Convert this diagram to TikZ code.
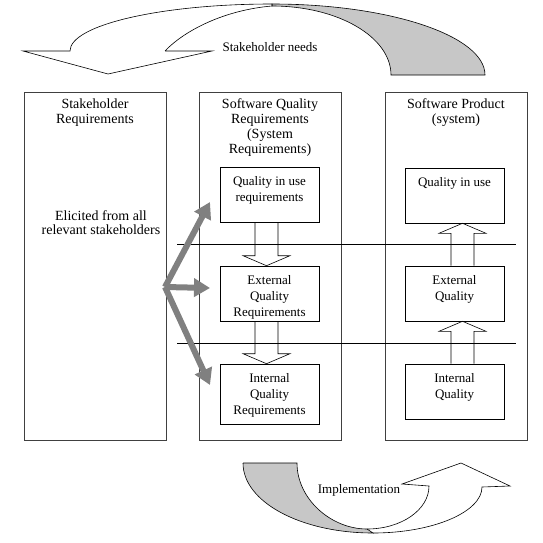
\documentclass[tikz,border=0pt]{standalone}
\usepackage{fontspec}
\setmainfont{Liberation Serif}
\usetikzlibrary{positioning,calc,arrows.meta,shadows}
\begin{document}
\begin{tikzpicture}
  [x=1pt,y=-1pt,line width=.6pt,
   col/.style={draw=black!75,fill=white,minimum width=142pt,minimum height=348pt,inner sep=0pt,
     drop shadow={shadow xshift=1pt,shadow yshift=-1pt,fill=black!45,opacity=1}},
   qbox/.style={draw,minimum width=99pt,minimum height=55pt,inner sep=0pt},
   head/.style={align=center,inner sep=0pt,font=\fontsize{14}{15}\selectfont},
   itxt/.style={align=center,inner sep=0pt,font=\fontsize{13}{16}\selectfont},
   hollow/.style={draw,line width=.6pt},
   feed/.style={draw=black!50,line width=6pt,-{Triangle[length=16pt,width=18pt]}},
   back/.style={draw,fill=black!22,line width=.6pt}]
  \useasboundingbox (0,0) rectangle (543,543);

  % stakeholder needs ribbon
  \draw[back] (272,4) .. controls (390,4) and (485,36) .. (485,75) -- (391,75)
    .. controls (391,37) and (338,6) .. (272,6) -- cycle;
  \draw[fill=white] (165,51) -- (212,51) -- (108,74) -- (23,51) -- (70,51)
    .. controls (70,25) and (161,4) .. (272,4) -- (272,6)
    .. controls (225,10) and (185,30) .. (165,51);
  \node[itxt] (needs) at (270,47) {Stakeholder needs};

  % implementation ribbon
  \draw[back] (243,463) -- (297,463) .. controls (297,499) and (331,529) .. (367,529)
    -- (373,533) .. controls (301,533) and (243,502) .. (243,463);
  \draw (367,529) .. controls (401,529) and (429,510) .. (429,486) -- (402,484)
    -- (461,463) -- (510,486) -- (482,487) .. controls (482,512) and (433,533) .. (373,533);

  % columns
  \node[col] (stake) at (95,266) {};
  \node[col] (sqr) at (270,266) {};
  \node[col] (prod) at (456,266) {};
  \node[head,below=7pt of stake.north] (stakeT) {Stakeholder\\Requirements};
  \node[head,below=7pt of sqr.north] (sqrT) {Software Quality\\Requirements\\(System\\Requirements)};
  \node[head,below=7pt of prod.north] (prodT) {Software Product\\(system)};
  \node[head,font=\fontsize{14}{14}\selectfont] (elicit) at (101,223) {Elicited from all\\relevant stakeholders};

  % quality boxes
  \node[qbox] (qur) at (269.5,194.5) {};
  \node[qbox] (eqr) at (269.5,293.5) {};
  \node[qbox,minimum height=60pt] (iqr) at (269.5,394) {};
  \node[qbox] (qu) at (454.5,195.5) {};
  \node[qbox] (eq) at (454.5,293.5) {};
  \node[qbox] (iq) at (454.5,391.5) {};
  \node[itxt,below=9pt of qur.north] (qurT) {Quality in use\\requirements};
  \node[itxt,below=9pt of eqr.north] (eqrT) {External\\Quality\\Requirements};
  \node[itxt,below=9pt of iqr.north] (iqrT) {Internal\\Quality\\Requirements};
  \node[itxt,below=9pt of qu.north] (quT) {Quality in use};
  \node[itxt,below=9pt of eq.north] (eqT) {External\\Quality};
  \node[itxt,below=9pt of iq.north] (iqT) {Internal\\Quality};

  % hollow arrows
  \foreach \from/\to in {qur/eqr,eqr/iqr}
    \draw[hollow] ($(\from.south)+(-14.5,0)$) -- ($(\to.north)+(-14.5,-10)$)
      -- ($(\to.north)+(-26.5,-10)$) -- ($(\to.north)+(-3,0)$)
      -- ($(\to.north)+(20.5,-10)$) -- ($(\to.north)+(8.5,-10)$) -- ($(\from.south)+(8.5,0)$);
  \foreach \from/\to in {iq/eq,eq/qu}
    \draw[hollow] ($(\from.north)+(-3.5,0)$) -- ($(\to.south)+(-3.5,10)$)
      -- ($(\to.south)+(-15.5,10)$) -- ($(\to.south)+(8,0)$)
      -- ($(\to.south)+(31.5,10)$) -- ($(\to.south)+(19.5,10)$) -- ($(\from.north)+(19.5,0)$);

  % level lines
  \coordinate (h1w) at (177,244);
  \coordinate (h1e) at (516,244);
  \coordinate (h2w) at (177,343);
  \coordinate (h2e) at (516,343);
  \draw (h1w) -- (h1e);
  \draw (h2w) -- (h2e);

  % derivation arrows
  \coordinate (src) at (165,287);
  \coordinate (g1) at (210,202);
  \coordinate (g2) at (210,288);
  \coordinate (g3) at (210,385);
  \foreach \t in {g1,g2,g3}
    \draw[feed] (src) -- (\t);

  \node[itxt] (impl) at (359,490) {Implementation};
\end{tikzpicture}
\end{document}
